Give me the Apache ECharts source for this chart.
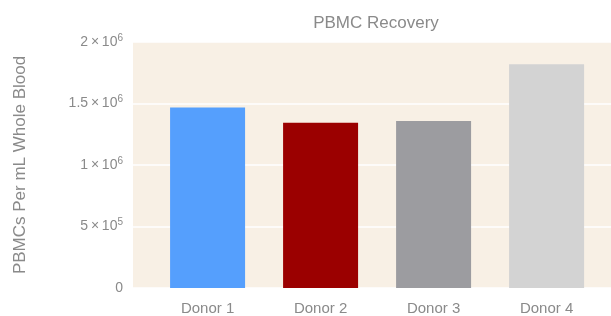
<!DOCTYPE html>
<html>
<head>
<meta charset="utf-8">
<script src="https://cdn.jsdelivr.net/npm/echarts@6/dist/echarts.min.js"></script>
<style>
  html, body { margin: 0; padding: 0; background: #fff; }
  #chart { width: 611px; height: 316px; }
</style>
</head>
<body>
<div id="chart"></div>
<script>
// data
const donors = ['Donor 1', 'Donor 2', 'Donor 3', 'Donor 4'];
const recovery = [1468000, 1344000, 1358000, 1820000];
const barColors = ['#559ffd', '#9b0000', '#9c9ca0', '#d3d3d3'];
// y tick labels as mantissa / exponent
const yTickMantissa = { 500000: '5\u2009×\u200910', 1000000: '1\u2009×\u200910', 1500000: '1.5\u2009×\u200910', 2000000: '2\u2009×\u200910' };
const yTickExp = { 500000: '5', 1000000: '6', 1500000: '6', 2000000: '6' };

const chart = echarts.init(document.getElementById('chart'));

// bars sit at x = 1..4 on a value axis so the beige plot band can be wider than the bars
const barData = recovery.map((v, i) => ({
  value: [i + 1, v],
  itemStyle: { color: barColors[i] }
}));

const options = {
  animation: false,
  textStyle: { fontFamily: '"Liberation Sans", Arial, sans-serif' },
  title: {
    text: 'PBMC Recovery',
    left: 371,
    textAlign: 'center',
    top: 10,
    textStyle: { fontSize: 17, fontWeight: 'normal', color: '#8a8a8a', fontFamily: '"Liberation Sans", Arial, sans-serif' }
  },
  grid: {
    left: 133,
    right: 0,
    top: 42,
    bottom: 27,
    show: true,
    backgroundColor: '#f8f0e5',
    borderWidth: 0
  },
  xAxis: {
    type: 'value',
    min: 0.34,
    max: 4.57,
    splitLine: { show: false },
    axisLine: { show: false },
    axisTick: { show: false },
    axisLabel: {
      color: '#8a8a8a',
      fontSize: 15,
      margin: 13,
      showMinLabel: false,
      showMaxLabel: false,
      formatter: v => Number.isInteger(v) && donors[v - 1] ? donors[v - 1] : ''
    }
  },
  yAxis: {
    type: 'value',
    min: 0,
    max: 2000000,
    interval: 500000,
    name: 'PBMCs Per mL Whole Blood',
    nameLocation: 'middle',
    nameGap: 104,
    nameTextStyle: { fontSize: 17, color: '#8a8a8a' },
    axisLine: { show: false },
    axisTick: { show: false },
    splitLine: { lineStyle: { color: '#ffffff', width: 1.5 } },
    axisLabel: {
      margin: 10,
      color: '#8a8a8a',
      formatter: v => v === 0 ? '{m|0}' : '{m|' + yTickMantissa[v] + '}{e|' + yTickExp[v] + '}',
      rich: {
        m: { fontSize: 14, color: '#8a8a8a', lineHeight: 18 },
        e: { fontSize: 10, color: '#8a8a8a', verticalAlign: 'top', lineHeight: 18 }
      }
    }
  },
  series: [
    {
      type: 'bar',
      data: barData,
      barWidth: 75
    }
  ]
};

chart.setOption(options);
</script>
</body>
</html>
